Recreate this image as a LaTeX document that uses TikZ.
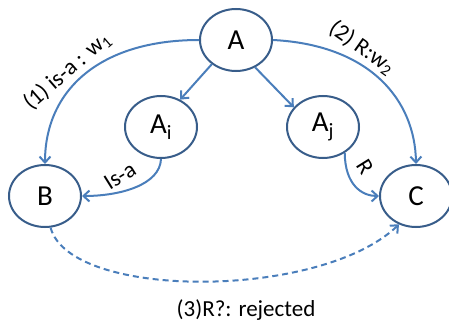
\documentclass[tikz,border=0pt]{standalone}
\usepackage{fontspec}
\setmainfont{Carlito}
\usetikzlibrary{shapes.geometric,arrows.meta}
\definecolor{nodeborder}{RGB}{56,93,138}
\definecolor{edgeblue}{RGB}{74,126,187}
\begin{document}
\begin{tikzpicture}[x=1pt,y=-1pt,
  ent/.style={ellipse,draw=nodeborder,line width=2pt,minimum width=72pt,minimum height=62pt,inner sep=0pt,font=\fontsize{29}{30}\selectfont},
  rel/.style={draw=edgeblue,line width=2pt,-{Straight Barb[length=6pt,width=11pt]}},
  lab/.style={font=\fontsize{23}{24}\selectfont,inner sep=0pt}]
\useasboundingbox (0,0) rectangle (449,326);
\node[ent] (A) at (236,40) {A};
\node[ent] (Ai) at (161,127) {A\textsubscript{i}};
\node[ent] (Aj) at (323,127) {A\textsubscript{j}};
\node[ent] (B) at (45,196) {B};
\node[ent] (C) at (416,196) {C};
\draw[rel] (A.west) .. controls (100,40) and (45,90) .. (B.north);
\draw[rel] (A.east) .. controls (370,45) and (415,100) .. (C.north);
\draw[rel] (A.225) -- (Ai.55);
\draw[rel] (A.305) -- (Aj.146);
\draw[rel] (Ai.south) .. controls (160,185) and (120,196) .. (B.east);
\draw[rel] (Aj.310) .. controls (345,185) and (362,196) .. (C.west);
\draw[rel,dash pattern=on 6pt off 4pt] (B.280) .. controls (70,300) and (320,300) .. (C.239);
\node[lab,rotate=41] (l1) at (67,71) {(1) is-a : w\textsubscript{1}};
\node[lab,rotate=-35] (l2) at (362,48) {(2) R:w\textsubscript{2}};
\node[lab,rotate=32] (l3) at (120,176) {Is-a};
\node[lab,rotate=-58] (l4) at (365,167) {R};
\node[lab] (l5) at (246,310) {(3)R?: rejected};
\end{tikzpicture}
\end{document}
